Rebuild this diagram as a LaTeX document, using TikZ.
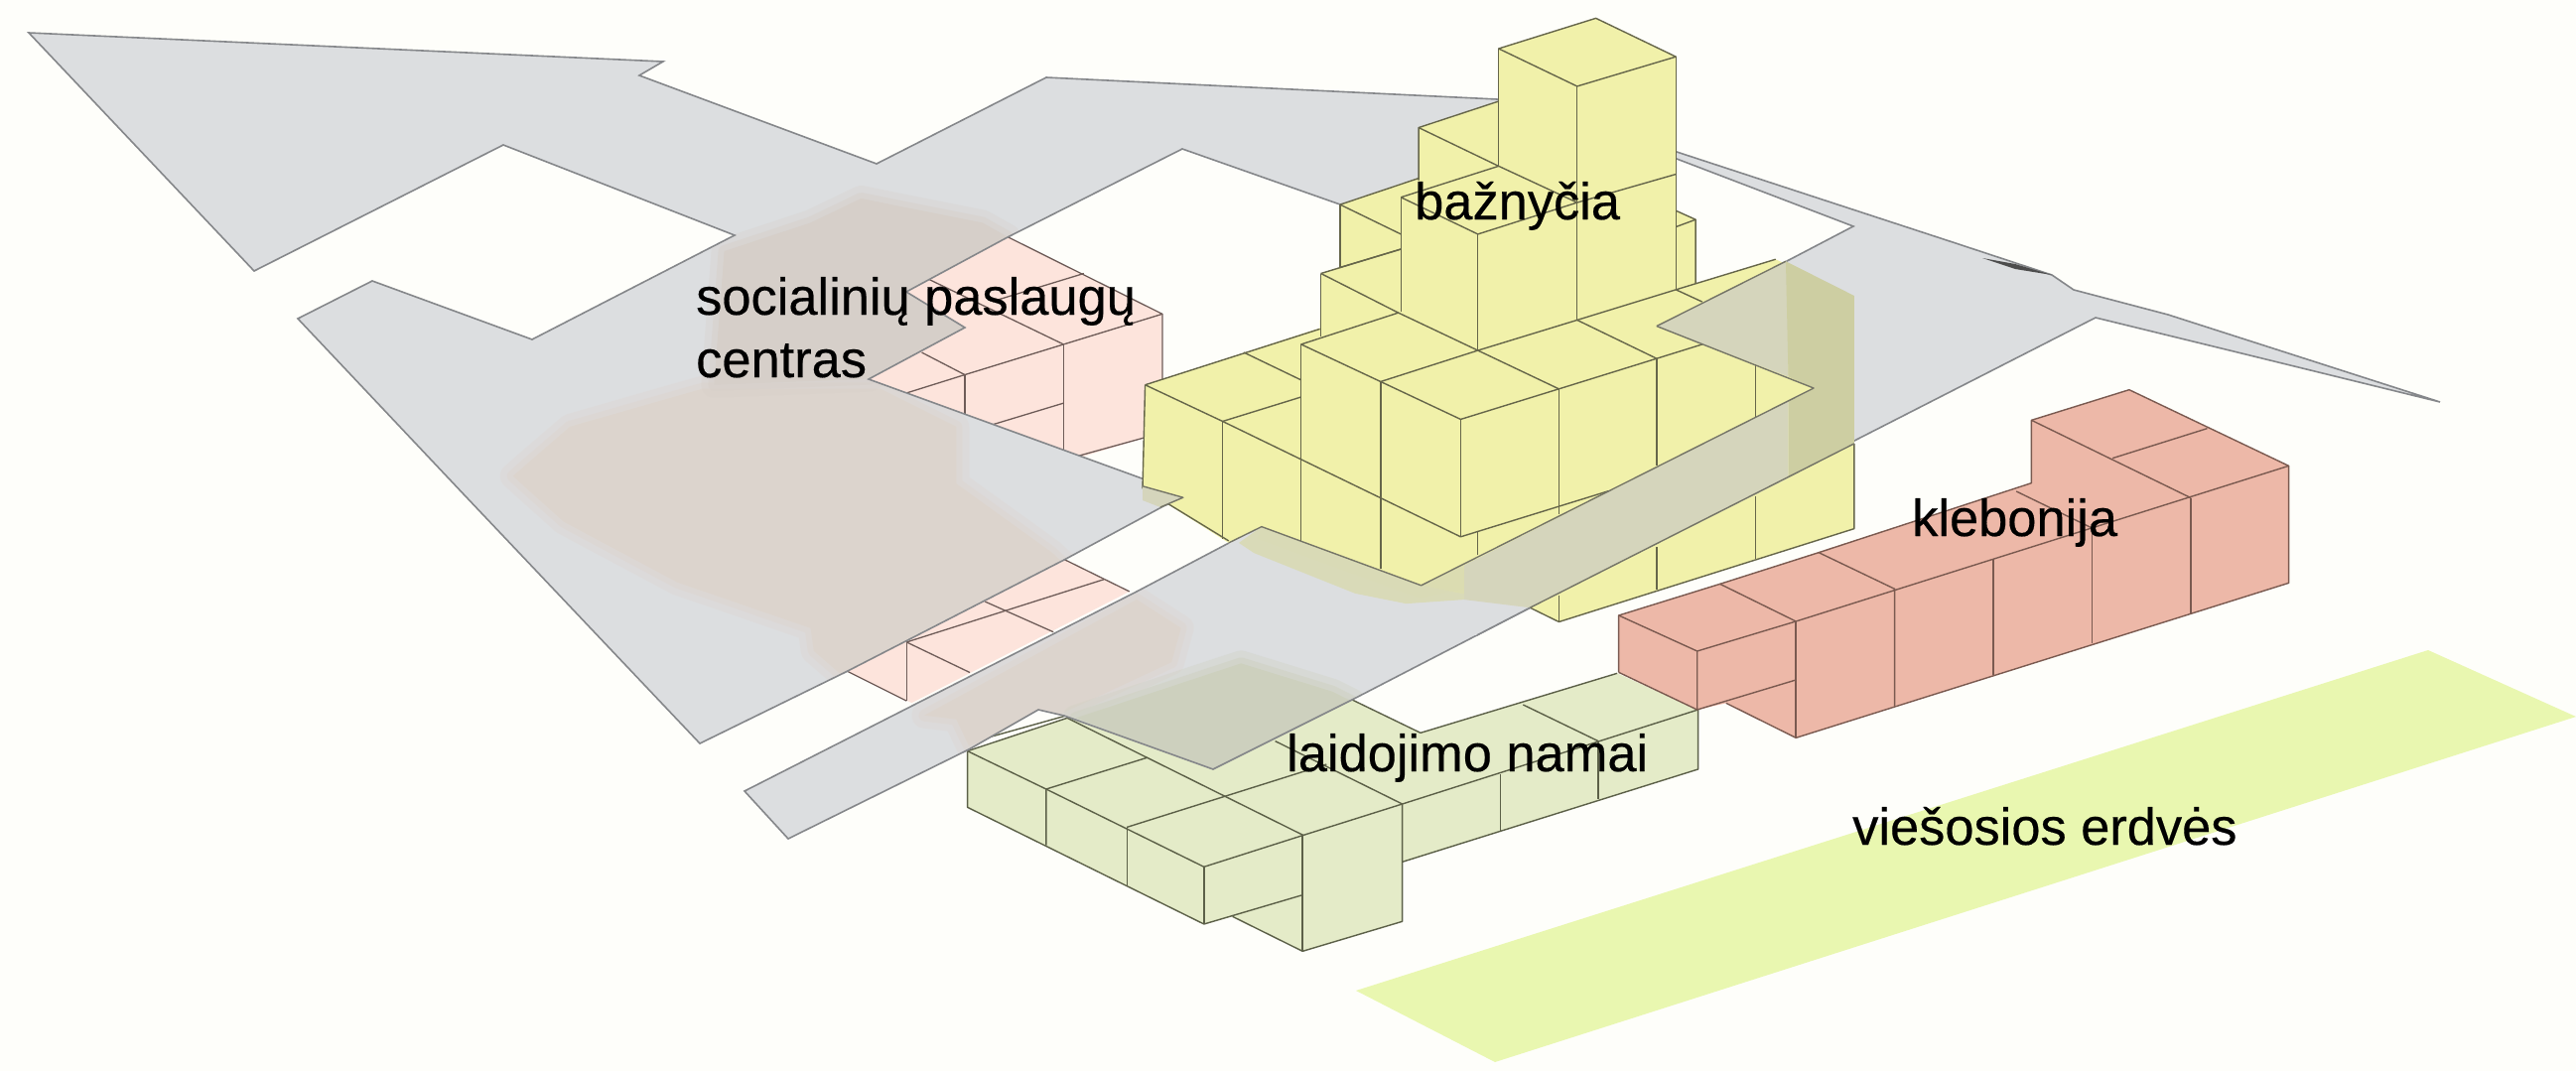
\documentclass[tikz,border=0pt]{standalone}
\usepackage{fontspec}
\setmainfont{Liberation Sans}
\definecolor{bgc}{HTML}{FEFEFA}
\definecolor{roadc}{HTML}{DCDEE0}
\definecolor{roadl}{HTML}{85878A}
\definecolor{yelc}{HTML}{F1F1AA}
\definecolor{yell}{HTML}{66664A}
\definecolor{pinkc}{HTML}{FDE4DC}
\definecolor{pinkl}{HTML}{6E5C58}
\definecolor{greenc}{HTML}{E4EBC8}
\definecolor{greenl}{HTML}{5C6048}
\definecolor{redc}{HTML}{EDB8A8}
\definecolor{redl}{HTML}{7A5A50}
\definecolor{pubc}{HTML}{E9F7B0}
\definecolor{brownp}{HTML}{DCD4CD}
\definecolor{brownq}{HTML}{D6CFC9}
\definecolor{oliveg}{HTML}{CDD0BE}
\definecolor{olivea}{HTML}{D5D5BC}
\definecolor{oliveb}{HTML}{CDCEA2}
\definecolor{olivec}{HTML}{D9DAB2}
\newcommand{\roadpath}{(29,33)--(668,62)--(644,76)--(883,165)--(1054,78)--(1508,100)--(1689,153)--(1964,243)--(2067,277)--(2089,292)--(2184,317)--(2458,405)--(2246,353)--(2111,320)--(1870,443)--(1540,613)--(1362,705)--(1222,775)--(1072,721)--(1046,715)--(976,755)--(794,845)--(750,797)--(919,711)--(1145,596)--(1238,547)--(1271,531)--(1432,590)--(1827,391)--(1669,329)--(1802,262)--(1867,228)--(1689,160)--(1350,206)--(1191,150)--(1015,239)--(913,294)--(972,330)--(875,382)--(1153,483)--(1193,501)--(1172,510)--(1072,564)--(852,677)--(705,749)--(469,500)--(300,321)--(375,283)--(536,342)--(740,237)--(507,146)--(256,273)--cycle}
\newcommand{\softpatch}[2]{%
  \path[draw=#1,fill=#1,draw opacity=.3,fill opacity=1,line width=26pt,line join=round] #2;
  \path[draw=#1,draw opacity=.45,line width=12pt,line join=round] #2;}
\tikzset{
  za/.style={x=0.5102pt,y=-0.40816pt,shift={(1100pt,0pt)}},
  zb/.style={x=0.5102pt,y=-0.40816pt,shift={(500pt,-200pt)}},
  zc/.style={x=0.57405pt,y=-0.33333pt,shift={(900pt,-600pt)}},
  zd/.style={x=0.5102pt,y=-0.33333pt,shift={(1600pt,-380pt)}},
  ze/.style={x=0.63776pt,y=-0.38270pt,shift={(300pt,-250pt)}},
  yline/.style={draw=yell,line width=1.4pt,line join=round},
  pline/.style={draw=pinkl,line width=1.3pt,line join=round},
  gline/.style={draw=greenl,line width=1.4pt,line join=round},
  rline/.style={draw=redl,line width=1.4pt,line join=round},
  roadline/.style={draw=roadl,line width=1.6pt,line join=miter},
  bandline/.style={draw=black!45!olivea,line width=1.4pt,line join=round},
  lbl/.style={font=\fontsize{52.4}{63}\selectfont\addfontfeature{FakeBold=0.35},text=black,inner sep=0pt,anchor=base west}
}
\begin{document}
\begin{tikzpicture}[x=1pt,y=-1pt]
\useasboundingbox (0,0) rectangle (2595,1079);
\fill[bgc] (0,0) rectangle (2595,1079);
% public space
\fill[pubc] (2446,655)--(2595,722)--(1506,1070)--(1366,998)--cycle;
% social centre
\begin{scope}[zb]
\fill[pinkc] (700,250)--(1010,95)--(1315,285)--(1315,578)--(1150,640)--(735,445)--cycle;
\fill[pinkc] (690,1165)--(1120,890)--(1250,970)--(820,1245)--cycle;
\path[pline] (1010,95)--(1315,285)--(1315,578)--(1150,635);
\path[pline] (1120,360)--(1315,285);
\path[pline] (1120,360)--(1120,630);
\path[pline] (925,435)--(1120,360);
\path[pline] (925,435)--(925,540);
\path[pline] (810,480)--(925,435);
\path[pline] (840,380)--(925,435);
\path[pline] (980,558)--(1120,505);
\path[pline] (855,200)--(1120,360);
\path[pline] (990,250)--(1160,185);
\path[pline] (690,1165)--(810,1240);
\path[pline] (810,1095)--(810,1240);
\path[pline] (810,1095)--(935,1170);
\path[pline] (810,1095)--(1200,940);
\path[pline] (965,995)--(1100,1070);
\path[pline] (1120,890)--(1250,970);
\end{scope}
% funeral home
\begin{scope}[zc]
\fill[greenc] (130,470)--(305,370)--(805,315)--(925,415)--(1270,235)--(1412,345)--(1412,525)--(893,805)--(893,985)--(718,1075)--(595,970)--(545,993)--(130,640)--cycle;
\path[gline] (130,470)--(130,640)--(545,993)--(718,905);
\path[gline] (595,970)--(718,1075)--(893,985)--(893,630);
\path[gline] (893,805)--(1412,525)--(1412,345);
\path[gline] (130,470)--(268,585)--(268,755);
\path[gline] (268,585)--(445,490);
\path[gline] (130,470)--(305,370)--(720,725);
\path[gline] (268,585)--(545,820);
\path[gline] (410,700)--(410,875);
\path[gline] (410,700)--(760,510);
\path[gline] (545,820)--(718,725);
\path[gline] (545,820)--(545,993);
\path[gline] (718,725)--(718,1075);
\path[gline] (718,725)--(893,630);
\path[gline] (893,630)--(1412,345);
\path[gline] (670,440)--(893,630);
\path[gline] (805,315)--(925,415)--(1270,235);
\path[gline] (1105,330)--(1237,440);
\path[gline] (1065,540)--(1065,710);
\path[gline] (1237,440)--(1237,615);
\path[gline] (160,432)--(305,362);
\end{scope}
% parish house
\begin{scope}[zd]
\fill[redc] (60,720)--(260,625)--(875,320)--(875,130)--(1068,38)--(1383,268)--(1383,622)--(410,1090)--(272,985)--(215,1005)--(60,892)--cycle;
\path[rline] (60,892)--(60,720)--(260,625);
\path[rline] (455,530)--(875,320)--(875,130)--(1068,38)--(1383,268)--(1383,622)--(410,1090)--(272,985);
\path[rline] (260,625)--(455,530);
\path[rline] (60,720)--(215,828)--(215,1005)--(410,915);
\path[rline] (60,892)--(215,1005);
\path[rline] (215,828)--(410,738);
\path[rline] (410,738)--(410,1090);
\path[rline] (410,738)--(1383,268);
\path[rline] (260,625)--(410,738);
\path[rline] (455,530)--(605,640)--(605,995);
\path[rline] (800,550)--(800,900);
\path[rline] (995,460)--(995,805);
\path[rline] (1190,365)--(1190,715);
\path[rline] (845,345)--(1000,460);
\path[rline] (875,130)--(1190,365);
\path[rline] (1035,245)--(1222,155);
\end{scope}
% road
\fill[roadc] \roadpath;
\begin{scope}
\clip \roadpath;
\begin{scope}[ze]
\softpatch{brownp}{(340,600)--(430,470)--(640,370)--(920,370)--(1040,470)--(1040,620)--(1190,800)--(1210,830)--(860,1125)--(815,1060)--(810,1000)--(600,880)--(420,720)--cycle}
\softpatch{brownp}{(990,1230)--(1325,925)--(1395,1000)--(1380,1090)--(1200,1230)--(1060,1310)--(1040,1240)--cycle}
\end{scope}
\begin{scope}[zb]
\softpatch{brownq}{(430,460)--(450,130)--(620,60)--(720,0)--(960,60)--(1010,95)--(810,230)--(925,318)--(735,445)--cycle}
\end{scope}
\begin{scope}[zc]
\softpatch{oliveg}{(320,370)--(610,205)--(770,290)--(805,320)--(560,528)--cycle}
\end{scope}
\end{scope}
\draw[roadline] \roadpath;
% dark sliver on the road edge
\fill[black!70] (1997,260)--(2030,266)--(2067,277)--(2030,271)--cycle;
% church
\begin{scope}[za]
\fill[yelc] (105,950)--(450,810)--(452,675)--(490,660)--(490,505)--(645,440)--(645,315)--(803,250)--(803,120)--(995,45)--(1153,140)--(1153,520)--(1192,542)--(1192,700)--(1350,640)--(1500,730)--(1505,1305)--(922,1535)--(865,1500)--(650,1445)--(335,1300)--(270,1340)--(100,1205)--cycle;
\path[yline] (803,120)--(995,45)--(1153,140)--(958,213)--cycle;
\path[yline] (803,120)--(803,410);
\path[yline] (958,213)--(958,790);
\path[yline] (1153,140)--(1153,715);
\path[yline] (803,250)--(645,315)--(645,445);
\path[yline] (645,315)--(803,410)--(958,500);
\path[yline] (610,487)--(803,410);
\path[yline] (610,487)--(762,578)--(958,500)--(1153,430);
\path[yline] (610,487)--(610,770);
\path[yline] (762,578)--(762,865);
\path[yline] (1153,520)--(1192,542)--(1192,700);
\path[yline] (1153,560)--(1192,542);
\path[yline] (490,505)--(645,440);
\path[yline] (490,505)--(490,660);
\path[yline] (490,505)--(610,578);
\path[yline] (490,660)--(610,615);
\path[yline] (452,675)--(610,615);
\path[yline] (452,675)--(605,772);
\path[yline] (452,675)--(452,830);
\path[yline] (105,950)--(450,812);
\path[yline] (300,870)--(413,938);
\path[yline] (105,950)--(258,1040);
\path[yline] (258,1040)--(413,980);
\path[yline] (258,1040)--(258,1330);
\path[yline] (105,950)--(100,1205)--(270,1335);
\path[yline] (413,850)--(605,772)--(762,865)--(570,942)--cycle;
\path[yline] (413,850)--(413,1335);
\path[yline] (570,942)--(570,1405);
\path[yline] (570,942)--(728,1035)--(922,960)--(762,865);
\path[yline] (728,1035)--(728,1325);
\path[yline] (922,960)--(922,1270);
\path[yline] (762,865)--(958,790)--(1115,885)--(922,960);
\path[yline] (1115,885)--(1115,1150);
\path[yline] (1115,885)--(1205,850);
\path[yline] (958,790)--(1153,715)--(1350,640);
\path[yline] (1153,715)--(1205,745);
\path[yline] (1310,895)--(1310,1030);
\path[yline] (258,1040)--(728,1325)--(1020,1212);
\path[yline] (762,1310)--(762,1370);
\path[yline] (865,1500)--(922,1535)--(1505,1305)--(1505,1095);
\path[yline] (922,1470)--(922,1535);
\path[yline] (1115,1350)--(1115,1455);
\path[yline] (1310,1225)--(1310,1380);
% road passing over the church
\fill[roadc] (270,1340)--(335,1300)--(650,1445)--(865,1500)--(760,1568)--(400,1568)--cycle;
\begin{scope}
\clip (270,1340)--(335,1300)--(650,1445)--(735,1395)--(735,1490)--(860,1500)--(760,1568)--(300,1568)--cycle;
\path[draw=olivec,draw opacity=.35,line width=26pt,line join=round] (335,1300)--(650,1445)--(735,1420);
\path[fill=olivec,fill opacity=.85] (335,1300)--(650,1445)--(735,1395)--(735,1480)--(620,1490)--(520,1465)--(320,1365)--(290,1340)--cycle;
\end{scope}
\fill[olivea] (1115,805)--(1370,645)--(1375,650)--(1375,930)--cycle;
\fill[oliveb] (1370,645)--(1505,730)--(1505,1095)--(1375,1180)--(1375,990)--(1425,958)--(1375,930)--cycle;
\fill[olivea] (1375,990)--(1375,1180)--(865,1500)--(735,1480)--(735,1395)--cycle;
\path[bandline] (1115,805)--(1370,645);
\path[bandline] (1115,805)--(1425,958)--(650,1445)--(335,1300)--(270,1340);
\path[bandline] (865,1500)--(1505,1095);
\path[roadline] (865,1500)--(760,1568);
\fill[olivea] (100,1200)--(180,1228)--(135,1252)--(100,1235)--cycle;
\path[bandline] (100,1200)--(180,1228)--(135,1252);
\end{scope}
% labels
\node[lbl] (church) at (1425,221) {bažnyčia};
\node[lbl] (social) at (701,317) {socialinių paslaugų};
\node[lbl] (socialb) at (701,380) {centras};
\node[lbl] (parish) at (1926,540) {klebonija};
\node[lbl] (funeral) at (1296,777) {laidojimo namai};
\node[lbl] (public) at (1866,851) {viešosios erdvės};
\end{tikzpicture}
\end{document}
